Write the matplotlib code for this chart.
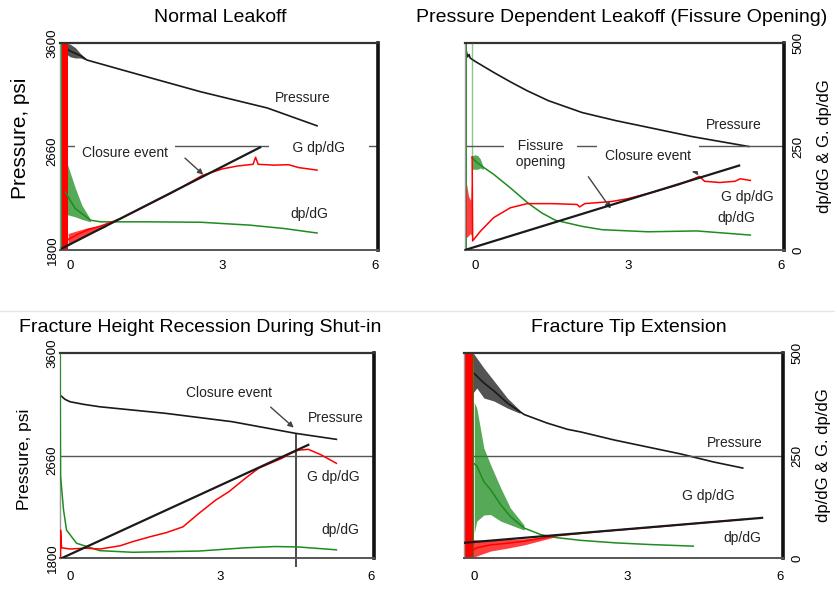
import numpy as np
import matplotlib.pyplot as plt
from matplotlib.lines import Line2D

plt.rcParams['font.family'] = ['Liberation Sans', 'DejaVu Sans']

RED = '#ff0000'
GREEN = '#1e8c1e'
BLACK = '#1a1a1a'
GREY = '#555555'

# axis ranges shared by all four G-function plots
g_ticks = [0, 3, 6]
p_ticks = [1800, 2660, 3600]
d_ticks = [0, 250, 500]
g_lim = (-0.2, 6.06)
p_lim = (1800, 3600)
d_lim = (0, 500)
d_mid = 250

# ---- Normal leakoff ----
nl_p_g = [-0.1, 0.0, 0.1, 0.2, 0.33, 1.24, 2.56, 3.88, 4.86]
nl_p = [3560, 3530, 3510, 3490, 3452, 3339, 3177, 3035, 2880]
nl_pn_g = [-0.1, 0.0, 0.1, 0.2, 0.3]
nl_pn_lo = [3510, 3480, 3470, 3470, 3455]
nl_pn_hi = [3600, 3590, 3560, 3510, 3470]

nl_gdp_g = [-0.04, 0.0, 0.15, 0.35, 0.6, 1.0, 1.5, 2.0, 2.6, 3.0, 3.3, 3.6, 3.65, 3.7, 4.0, 4.3, 4.5, 4.86]
nl_gdp = [25, 28, 38, 49, 58, 76, 107, 138, 180, 196, 203, 207, 224, 207, 205, 206, 199, 193]
nl_gdp_spike = [-0.16, -0.04]
nl_gdpn_g = [-0.04, 0.1, 0.35, 0.7]
nl_gdpn_lo = [10, 22, 38, 56]
nl_gdpn_hi = [40, 45, 54, 62]

nl_dp_g = [-0.1, 0.1, 0.23, 0.4, 0.6, 1.5, 2.57, 3.54, 4.2, 4.86]
nl_dp = [140, 100, 88, 72, 68, 68, 67, 60, 52, 41]
nl_dp_spike = [-0.2, -0.15]
nl_dpn_g = [-0.1, -0.05, 0.1, 0.23, 0.4]
nl_dpn_lo = [80, 85, 80, 74, 68]
nl_dpn_hi = [200, 205, 150, 108, 74]

nl_fit_g = [-0.16, 3.74]
nl_fit = [4, 248]

# ---- Pressure dependent leakoff ----
pd_p_g = [-0.18, -0.15, -0.12, -0.1, 0.0, 0.36, 0.7, 1.02, 1.44, 2.1, 2.76, 3.41, 4.27, 5.37]
pd_p = [3540, 3480, 3500, 3470, 3440, 3345, 3260, 3185, 3098, 2995, 2925, 2865, 2785, 2700]

pd_gdp_g = [-0.06, -0.05, 0.1, 0.36, 0.69, 1.02, 1.5, 2.0, 2.05, 2.15, 2.67, 3.0, 3.5, 4.0,
            4.35, 4.4, 4.5, 4.8, 5.1, 5.2, 5.4]
pd_gdp = [225, 22, 45, 78, 102, 112, 112, 110, 104, 112, 117, 124, 140, 158,
          175, 178, 166, 163, 166, 172, 168]
pd_gdpn_g = [-0.2, -0.17, -0.13, -0.09, -0.06]
pd_gdpn_lo = [40, 30, 35, 40, 30]
pd_gdpn_hi = [110, 160, 130, 120, 200]

pd_dp_g = [-0.06, 0.0, 0.1, 0.36, 0.69, 1.04, 1.3, 1.57, 2.1, 2.49, 3.39, 4.35, 5.4]
pd_dp = [223, 215, 205, 183, 150, 113, 90, 72, 57, 49, 44, 46, 36]
pd_dp_trace = [-0.06, 223, 500]   # faint vertical trace before the decline
pd_dp_spike = [-0.2, -0.16]
pd_dpn_g = [-0.06, 0.0, 0.05, 0.1, 0.16]
pd_dpn_lo = [195, 195, 195, 198, 195]
pd_dpn_hi = [228, 230, 228, 220, 200]

pd_fit_g = [-0.2, 5.18]
pd_fit = [0, 204]

# ---- Fracture height recession ----
hr_p_g = [-0.2, -0.1, 0.0, 0.26, 0.59, 1.91, 3.23, 4.49, 5.31]
hr_p = [3231, 3193, 3172, 3150, 3128, 3070, 2997, 2895, 2842]

hr_gdp_g = [-0.19, -0.19, -0.17, 0.0, 0.3, 0.6, 1.0, 1.25, 1.6, 1.92, 2.25, 2.57, 2.9, 3.17,
            3.5, 3.76, 4.22, 4.4, 4.55, 4.75, 5.0, 5.31]
hr_gdp = [0, 68, 25, 22, 24, 22, 30, 40, 52, 62, 76, 109, 141, 162,
          195, 219, 243, 255, 263, 265, 252, 231]

hr_dp_g = [-0.2, -0.19, -0.13, -0.07, 0.13, 0.59, 1.25, 2.57, 3.5, 4.09, 4.55, 5.31]
hr_dp = [500, 200, 117, 68, 36, 18, 14, 17, 25, 28, 27, 20]

hr_fit_g = [-0.16, 4.75]
hr_fit = [0, 276]
hr_closure_g = 4.5

# ---- Fracture tip extension ----
te_p_g = [0.0, 0.19, 0.39, 0.65, 0.98, 1.43, 1.83, 2.1, 2.75, 3.4, 4.06, 4.7, 5.27]
te_p = [3420, 3337, 3266, 3161, 3060, 2985, 2930, 2906, 2836, 2775, 2713, 2643, 2590]
te_pn_g = [-0.02, 0.05, 0.19, 0.39, 0.65, 0.9]
te_pn_lo = [3250, 3293, 3205, 3178, 3117, 3070]
te_pn_hi = [3600, 3556, 3468, 3354, 3205, 3095]

te_gdp_g = [-0.02, 0.05, 0.32, 0.65, 0.98, 1.6, 2.5, 3.5, 4.5, 5.27]
te_gdp = [20, 25, 32, 36, 41, 54, 65, 75, 86, 94]
te_gdp_spike = [-0.2, -0.02]
te_gdpn_g = [-0.02, 0.05, 0.32, 0.65, 0.98, 1.6]
te_gdpn_lo = [0, 5, 17, 24, 32, 52]
te_gdpn_hi = [45, 44, 44, 45, 47, 55]

te_dp_g = [0.0, 0.05, 0.19, 0.32, 0.52, 0.71, 0.98, 1.31, 1.6, 2.1, 2.77, 3.43, 4.3]
te_dp = [230, 225, 186, 167, 130, 101, 73, 57, 50, 43, 37, 33, 29]
te_dp_spike = [-0.03, 0.0]
te_dpn_g = [0.0, 0.05, 0.19, 0.32, 0.52, 0.71, 0.98]
te_dpn_lo = [60, 90, 105, 106, 90, 81, 68]
te_dpn_hi = [380, 366, 268, 228, 171, 122, 80]

te_fit_g = [-0.2, 5.65]
te_fit = [37, 98]


fig = plt.figure(figsize=(8.35, 5.9), dpi=100)
fig.add_artist(Line2D([0, 1], [1 - 311 / 590] * 2, color='#e6e6e6', lw=1))


def make_axes(rect, side, xpad):
    ax = fig.add_axes(rect)
    axd = ax.twinx()
    ax.set_xlim(g_lim)
    ax.set_ylim(p_lim)
    axd.set_ylim(d_lim)
    ax.set_xticks(g_ticks)
    ax.tick_params(axis='x', length=0, pad=xpad, labelsize=9.5)
    if side == 'left':
        ax.set_yticks(p_ticks)
        ax.set_yticklabels([str(v) for v in p_ticks], rotation=90, va='center')
        ax.tick_params(axis='y', length=0, pad=1, labelsize=9.5)
        axd.set_yticks([])
    else:
        ax.set_yticks([])
        axd.set_yticks(d_ticks)
        axd.set_yticklabels([str(v) for v in d_ticks], rotation=90, va='center')
        axd.tick_params(axis='y', length=0, pad=6, labelsize=9.5)
    for s in ax.spines.values():
        s.set_visible(False)
    axd.spines['top'].set(color='#333333', lw=1.6)
    axd.spines['right'].set(color='#111111', lw=2.6)
    axd.spines['bottom'].set(color='#555555', lw=1.4)
    axd.spines['left'].set(color='#999999', lw=1.0)
    axd.axhline(d_mid, color=GREY, lw=1, zorder=1)
    return ax, axd


def spike(axd, span, color):
    axd.fill_between(span, [d_lim[0]] * 2, [d_lim[1]] * 2, color=color, lw=0, zorder=2)


def band(a, g, lo, hi, color, alpha=0.75):
    a.fill_between(g, lo, hi, color=color, lw=0, alpha=alpha, zorder=2)


def arrow(axd, start, end):
    axd.annotate('', xy=end, xytext=start,
                 arrowprops=dict(arrowstyle='-|>', color='#444444', lw=1, mutation_scale=8,
                                 shrinkA=0, shrinkB=0))


txt = dict(fontsize=10, ha='center', va='center', color='#222222', zorder=6)
white = dict(facecolor='white', edgecolor='none')

# Normal leakoff
ax, axd = make_axes([0.0719, 0.5763, 0.3808, 0.3508], 'left', 7)
ax.set_ylabel('Pressure, psi', fontsize=15)
ax.yaxis.set_label_coords(-0.095, 0.54)
band(ax, nl_pn_g, nl_pn_lo, nl_pn_hi, BLACK)
ax.plot(nl_p_g, nl_p, color=BLACK, lw=1.2)
spike(axd, nl_dp_spike, GREEN)
band(axd, nl_dpn_g, nl_dpn_lo, nl_dpn_hi, GREEN)
axd.plot(nl_dp_g, nl_dp, color=GREEN, lw=1.1, zorder=3)
spike(axd, nl_gdp_spike, RED)
band(axd, nl_gdpn_g, nl_gdpn_lo, nl_gdpn_hi, RED)
axd.plot(nl_gdp_g, nl_gdp, color=RED, lw=1.1, zorder=3)
axd.plot(nl_fit_g, nl_fit, color=BLACK, lw=1.6, zorder=4)
axd.text(4.57, 367, 'Pressure', **txt)
axd.text(1.08, 234, 'Closure event', bbox=dict(pad=5, **white), **txt)
axd.text(4.9, 247, '     G dp/dG     ', bbox=dict(pad=3, **white), **txt)
axd.text(4.7, 88, 'dp/dG', **txt)
arrow(axd, (2.26, 222), (2.62, 182))
fig.text(220 / 835, 1 - 18 / 590, 'Normal Leakoff', fontsize=14, ha='center', va='center')

# Pressure dependent leakoff
ax, axd = make_axes([0.5569, 0.5763, 0.3820, 0.3508], 'right', 7)
axd.set_ylabel('dp/dG & G. dp/dG', fontsize=12)
axd.yaxis.set_label_coords(1.105, 0.5)
ax.plot(pd_p_g, pd_p, color=BLACK, lw=1.2)
spike(axd, pd_dp_spike, GREEN)
axd.plot([pd_dp_trace[0]] * 2, pd_dp_trace[1:], color=GREEN, lw=1, alpha=0.5, zorder=3)
band(axd, pd_dpn_g, pd_dpn_lo, pd_dpn_hi, GREEN)
axd.plot(pd_dp_g, pd_dp, color=GREEN, lw=1.1, zorder=3)
band(axd, pd_gdpn_g, pd_gdpn_lo, pd_gdpn_hi, RED)
axd.plot(pd_gdp_g, pd_gdp, color=RED, lw=1.1, zorder=3)
axd.plot(pd_fit_g, pd_fit, color=BLACK, lw=1.6, zorder=4)
axd.text(5.08, 303, 'Pressure', **txt)
axd.text(1.28, 232, '  Fissure  \n  opening  ', bbox=dict(pad=3, **white), **txt)
axd.text(3.39, 228, 'Closure event', bbox=dict(pad=6, **white), **txt)
axd.text(5.35, 129, 'G dp/dG', **txt)
axd.text(5.12, 78, 'dp/dG', **txt)
arrow(axd, (2.22, 177), (2.66, 100))
arrow(axd, (4.3, 194), (4.38, 180))
fig.text(622 / 835, 1 - 18 / 590, 'Pressure Dependent Leakoff (Fissure Opening)',
         fontsize=14, ha='center', va='center')

# Fracture height recession during shut-in
ax, axd = make_axes([0.0719, 0.0542, 0.3760, 0.3475], 'left', 9)
ax.set_ylabel('Pressure, psi', fontsize=12.5)
ax.yaxis.set_label_coords(-0.09, 0.48)
ax.plot(hr_p_g, hr_p, color=BLACK, lw=1.2)
ax.vlines(hr_closure_g, p_lim[0] - 80, np.interp(hr_closure_g, hr_p_g, hr_p),
          color=BLACK, lw=1.1, clip_on=False, zorder=5)
axd.plot(hr_dp_g, hr_dp, color=GREEN, lw=1.1, zorder=3)
axd.plot(hr_gdp_g, hr_gdp, color=RED, lw=1.1, zorder=3)
axd.plot(hr_fit_g, hr_fit, color=BLACK, lw=1.6, zorder=4)
axd.text(3.17, 402, 'Closure event', **txt)
axd.text(5.29, 341, 'Pressure', **txt)
axd.text(5.25, 198, 'G dp/dG', **txt)
axd.text(5.39, 68, 'dp/dG', **txt)
arrow(axd, (4.0, 368), (4.46, 318))
fig.text(200 / 835, 1 - 328 / 590, 'Fracture Height Recession During Shut-in',
         fontsize=14, ha='center', va='center')

# Fracture tip extension
ax, axd = make_axes([0.5557, 0.0542, 0.3820, 0.3475], 'right', 9)
axd.set_ylabel('dp/dG & G. dp/dG', fontsize=12)
axd.yaxis.set_label_coords(1.105, 0.5)
band(ax, te_pn_g, te_pn_lo, te_pn_hi, BLACK)
ax.plot(te_p_g, te_p, color=BLACK, lw=1.2)
spike(axd, te_dp_spike, GREEN)
band(axd, te_dpn_g, te_dpn_lo, te_dpn_hi, GREEN)
axd.plot(te_dp_g, te_dp, color=GREEN, lw=1.1, zorder=3)
spike(axd, te_gdp_spike, RED)
band(axd, te_gdpn_g, te_gdpn_lo, te_gdpn_hi, RED)
axd.plot(te_gdp_g, te_gdp, color=RED, lw=1.1, zorder=3)
axd.plot(te_fit_g, te_fit, color=BLACK, lw=1.6, zorder=4)
axd.text(5.12, 280, 'Pressure', **txt)
axd.text(4.59, 151, 'G dp/dG', **txt)
axd.text(5.26, 49, 'dp/dG', **txt)
fig.text(629 / 835, 1 - 328 / 590, 'Fracture Tip Extension',
         fontsize=14, ha='center', va='center')

fig.savefig('out.png', dpi=100)
